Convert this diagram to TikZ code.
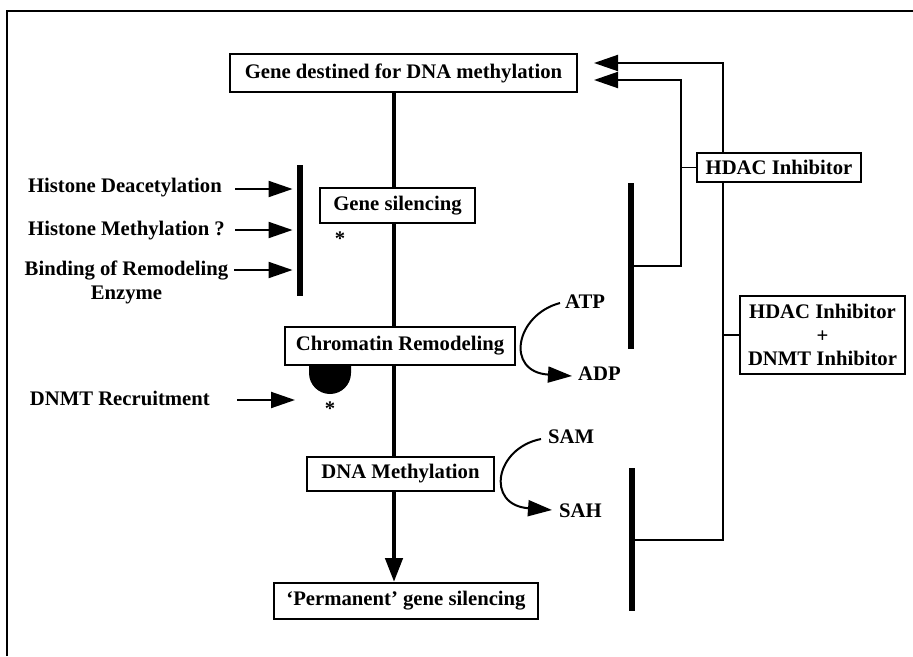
\documentclass[tikz,border=0pt]{standalone}
\usepackage{fontspec}
\setmainfont{Liberation Serif}
\usetikzlibrary{arrows.meta,calc,backgrounds}
\begin{document}
\begin{tikzpicture}[x=1pt,y=-1pt,
  txt/.style={font=\fontsize{20.7}{24}\selectfont\bfseries, inner sep=0pt},
  box/.style={txt, draw, line width=2pt, fill=white},
  bar/.style={fill=black, inner sep=0pt, minimum width=6.5pt},
  link/.style={line width=1.8pt},
  arr/.style={line width=2pt, -{Triangle[length=24pt,width=16pt]}},
  spine/.style={line width=4.5pt}]
\useasboundingbox (0,0) rectangle (913,656);

% outer frame
\draw[line width=1.8pt] (7,656) -- (7,11) -- (913,11);

% pathway boxes
\node[box, minimum width=347pt, minimum height=38pt] (top) at (403.5,73) {Gene destined for DNA methylation};
\node[box, minimum width=155pt, minimum height=35pt] (gs) at (397.5,205.5) {Gene silencing};
\node[box, minimum width=230pt, minimum height=38pt] (cr) at (400,346) {Chromatin Remodeling};
\node[box, minimum width=187pt, minimum height=34pt] (dm) at (400.5,474) {DNA Methylation};
\node[box, minimum width=264pt, minimum height=36pt] (perm) at (406,601) {`Permanent' gene silencing};

% inhibitor boxes
\node[box, minimum width=164pt, minimum height=29pt] (hdac) at (779,167.5) {HDAC Inhibitor};
\node[box, minimum width=165pt, minimum height=78pt, align=center,
      font=\fontsize{20.7}{23.5}\selectfont\bfseries] (both) at (822.5,335) {HDAC Inhibitor\\+\\DNMT Inhibitor};

% blocking bars
\node[bar, minimum height=131pt] (bar1) at (300,230.5) {};
\node[bar, minimum height=166pt] (bar2) at (631,266) {};
\node[bar, minimum height=143pt] (bar3) at (632,539.5) {};

% left-hand mechanisms
\node[txt, anchor=base east] (h1) at (222,192) {Histone Deacetylation};
\node[txt, anchor=base east] (h2) at (225,235) {Histone Methylation ?};
\node[txt, anchor=north, align=center] (h3) at (126.5,261) {Binding of Remodeling\\Enzyme};
\node[txt, anchor=base east] (dnmt) at (210,405) {DNMT Recruitment};
\coordinate (dnmtTip) at (295,400);

% cofactors
\node[txt, anchor=base west] (atp) at (565,308) {ATP};
\node[txt, anchor=base west] (adp) at (578,380) {ADP};
\node[txt, anchor=base west] (sam) at (548,443) {SAM};
\node[txt, anchor=base west] (sah) at (559,517) {SAH};

% asterisks
\node[txt, anchor=base] (st1) at (340,245) {*};
\node[txt, anchor=base] (st2) at (330,415) {*};

% main spine
\coordinate (mx) at (394,0);
\draw[spine] (top.south -| mx) -- (gs.north -| mx);
\draw[spine] (gs.south -| mx) -- (cr.north -| mx);
\draw[spine] (cr.south -| mx) -- (dm.north -| mx);
\draw[spine, -{Triangle[length=24pt,width=17pt]}] (dm.south -| mx) -- (perm.north -| mx);

% DNMT docking cap under chromatin remodeling
\fill ($(cr.south west)+(25,0)$) -- ++(0,7) arc[start angle=180, end angle=360, radius=21pt] -- ($(cr.south west)+(67,0)$) -- cycle;

% arrows into the left bar
\draw[arr] ($(h1.base east)+(13,-3)$) -- ($(h1.base east -| bar1.west)+(-4,-3)$);
\draw[arr] ($(h2.base east)+(10,-5)$) -- ($(h2.base east -| bar1.west)+(-4,-5)$);
\draw[arr] ($(h3.north east)+(6,9)$) -- ($(h3.north east -| bar1.west)+(-4,9)$);
\draw[arr] ($(dnmt.base east)+(27,-5)$) -- (dnmtTip);

% cofactor turnover curves
\draw[arr] ($(atp.base west)+(-5,-5)$) .. controls +(-45,12) and +(-67,-4) .. ($(adp.base west)+(-6,-4)$);
\draw[arr] ($(sam.base west)+(-7,-4)$) .. controls +(-46,9) and +(-67,-5) .. ($(sah.base west)+(-7,-7)$);

% inhibitor feedback lines
\coordinate (v1) at (681,80);
\coordinate (v2) at (723,63);
\begin{scope}[on background layer]
\draw[arr] (bar2.east) -| (v1) -- ($(top.east)+(16,7)$);
\draw[arr] (bar3.east) -| (v2) -- ($(top.east)+(16,-10)$);
\draw[link] (hdac.west) -- (hdac.west -| v1);
\draw[link] (both.west) -- (both.west -| v2);
\end{scope}
\end{tikzpicture}
\end{document}
